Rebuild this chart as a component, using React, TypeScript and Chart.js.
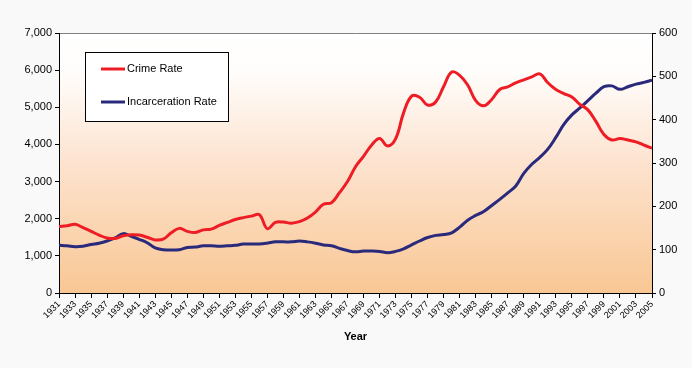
import React, { useEffect, useRef } from "react";
import { Chart, registerables } from "chart.js";

Chart.register(...registerables);

const years: number[] = [];
for (let y = 1931; y <= 2005; y++) years.push(y);

const crimeRate = [
  1790, 1810, 1850, 1760, 1660, 1560, 1480, 1470, 1540, 1570,
  1560, 1500, 1430, 1450, 1620, 1740, 1660, 1630, 1700, 1720,
  1820, 1900, 1980, 2030, 2070, 2110, 1730, 1900, 1910, 1880,
  1920, 2020, 2180, 2390, 2430, 2700, 3000, 3400, 3680, 3980,
  4160, 3960, 4150, 4850, 5300, 5270, 5060, 5140, 5560, 5950,
  5860, 5600, 5180, 5040, 5210, 5480, 5550, 5660, 5740, 5820,
  5900, 5660, 5480, 5370, 5280, 5080, 4930, 4620, 4270, 4120,
  4160, 4120, 4070, 3980, 3900,
];

const incarcerationRate = [
  110, 109, 107, 108, 112, 115, 120, 127, 137, 131,
  124, 116, 104, 100, 99, 100, 105, 106, 109, 109,
  108, 109, 110, 113, 113, 113, 115, 118, 118, 118,
  120, 118, 115, 111, 109, 103, 98, 95, 97, 97,
  96, 93, 96, 102, 111, 120, 128, 133, 135, 139,
  152, 168, 179, 188, 202, 216, 231, 247, 276, 297,
  313, 332, 359, 389, 411, 427, 444, 461, 476, 478,
  470, 476, 482, 486, 491,
];

const seriesNames = ["Crime Rate", "Incarceration Rate"];
const xTitle = "Year";

const RED = "#EE1C25";
const NAVY = "#2A2A7C";
const FONT = "Arial, 'Liberation Sans', sans-serif";

const decorPlugin = {
  id: "decor",
  beforeDraw(chart: any) {
    const { ctx, chartArea, width, height } = chart;
    ctx.save();
    ctx.fillStyle = "#F9F9F9";
    ctx.fillRect(0, 0, width, height);
    const g = ctx.createLinearGradient(0, chartArea.top, 0, chartArea.bottom);
    g.addColorStop(0, "#FFFFFF");
    g.addColorStop(0.15, "#FFFDFB");
    g.addColorStop(0.5, "#FDE3CF");
    g.addColorStop(1, "#F9C794");
    ctx.fillStyle = g;
    ctx.fillRect(chartArea.left, chartArea.top, chartArea.right - chartArea.left, chartArea.bottom - chartArea.top);
    ctx.strokeStyle = "#808080";
    ctx.lineWidth = 1;
    ctx.beginPath();
    ctx.moveTo(chartArea.left, chartArea.top + 0.5);
    ctx.lineTo(chartArea.right, chartArea.top + 0.5);
    ctx.stroke();
    ctx.restore();
  },
  afterDraw(chart: any) {
    const { ctx } = chart;
    ctx.save();
    const bx = 85.5, by = 52.5, bw = 143, bh = 69;
    ctx.fillStyle = "#FFFFFF";
    ctx.fillRect(bx, by, bw, bh);
    ctx.strokeStyle = "#000000";
    ctx.lineWidth = 1;
    ctx.strokeRect(bx, by, bw, bh);
    const items = [
      { label: seriesNames[0], color: RED, y: 69 },
      { label: seriesNames[1], color: NAVY, y: 102 },
    ];
    ctx.font = `11px ${FONT}`;
    ctx.textBaseline = "middle";
    ctx.textAlign = "left";
    for (const it of items) {
      ctx.strokeStyle = it.color;
      ctx.lineWidth = 3;
      ctx.beginPath();
      ctx.moveTo(101, it.y);
      ctx.lineTo(125, it.y);
      ctx.stroke();
      ctx.fillStyle = "#000000";
      ctx.fillText(it.label, 127, it.y);
    }
    ctx.restore();
  },
};

export default function App() {
  const ref = useRef<HTMLCanvasElement | null>(null);
  useEffect(() => {
    if (!ref.current) return;
    const chart = new Chart(ref.current, {
      type: "line",
      data: {
        datasets: [
          {
            label: seriesNames[0],
            data: years.map((y, i) => ({ x: y, y: crimeRate[i] })),
            borderColor: RED,
            backgroundColor: RED,
            borderWidth: 3,
            pointRadius: 0,
            tension: 0.4,
            yAxisID: "y",
          },
          {
            label: seriesNames[1],
            data: years.map((y, i) => ({ x: y, y: incarcerationRate[i] })),
            borderColor: NAVY,
            backgroundColor: NAVY,
            borderWidth: 3,
            pointRadius: 0,
            tension: 0.4,
            yAxisID: "y1",
          },
        ],
      },
      plugins: [decorPlugin],
      options: {
        animation: false,
        responsive: false,
        maintainAspectRatio: false,
        layout: { padding: { top: 33, left: 0, right: 0, bottom: 0 } },
        plugins: {
          legend: { display: false },
          tooltip: { enabled: false },
        },
        scales: {
          x: {
            type: "linear",
            min: 1931,
            max: 2005,
            afterFit: (s: any) => { s.height = 75; },
            ticks: {
              stepSize: 2,
              autoSkip: false,
              maxRotation: 45,
              minRotation: 45,
              color: "#000",
              font: { family: FONT, size: 9 },
              padding: 1,
              callback: (v: any) => String(v),
            },
            grid: { drawOnChartArea: false, drawTicks: true, tickLength: 5, tickColor: "#000" },
            border: { display: true, color: "#000", width: 1 },
            title: {
              display: true,
              text: xTitle,
              color: "#000",
              font: { family: FONT, size: 11, weight: "bold" },
              padding: { top: 0, bottom: 24 },
            },
          },
          y: {
            position: "left",
            min: 0,
            max: 7000,
            afterFit: (s: any) => { s.width = 59; },
            ticks: {
              stepSize: 1000,
              color: "#000",
              font: { family: FONT, size: 11 },
              padding: 3,
              callback: (v: any) => Number(v).toLocaleString("en-US"),
            },
            grid: { drawOnChartArea: false, drawTicks: true, tickLength: 4, tickColor: "#000" },
            border: { display: true, color: "#000", width: 1 },
          },
          y1: {
            position: "right",
            min: 0,
            max: 600,
            afterFit: (s: any) => { s.width = 40; },
            ticks: {
              stepSize: 100,
              color: "#000",
              font: { family: FONT, size: 11 },
              padding: 3,
            },
            grid: { drawOnChartArea: false, drawTicks: true, tickLength: 4, tickColor: "#000" },
            border: { display: true, color: "#000", width: 1 },
          },
        },
      },
    } as any);
    return () => chart.destroy();
  }, []);
  return (
    <div style={{ position: "fixed", left: 0, top: 0, width: 692, height: 368, background: "#F9F9F9" }}>
      <canvas ref={ref} width={692} height={368} style={{ width: 692, height: 368, display: "block" }} />
    </div>
  );
}
